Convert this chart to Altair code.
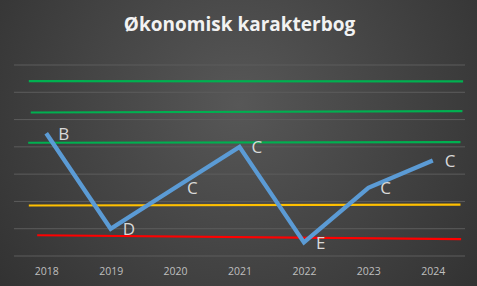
import altair as alt
import pandas as pd

# ---- data ----
years = [2018, 2019, 2020, 2021, 2022, 2023, 2024]
scores = [4.5, 1.0, 2.5, 4.0, 0.5, 2.5, 3.5]
grades = ["B", "D", "C", "C", "E", "C", "C"]

grid_levels = [0, 1, 2, 3, 4, 5, 6, 7]

ref_names = ["g1", "g1", "g2", "g2", "g3", "g3", "y", "y", "r", "r"]
ref_x = [2017.73, 2024.47, 2017.76, 2024.46, 2017.72, 2024.43, 2017.73, 2024.43, 2017.86, 2024.44]
ref_y = [6.41, 6.40, 5.26, 5.31, 4.15, 4.17, 1.85, 1.88, 0.76, 0.62]
ref_colors = {"g1": "#00B050", "g2": "#00B050", "g3": "#00B050", "y": "#FFC000", "r": "#FF0000"}

W, H = 451, 191
PAD = {"left": 14, "top": 65, "right": 12, "bottom": 30}

main = pd.DataFrame({"year": years, "score": scores, "grade": grades})
refs = pd.DataFrame({"name": ref_names, "x": ref_x, "y": ref_y})
grid = pd.DataFrame({"level": grid_levels})

xscale = alt.Scale(domain=[2017.5, 2024.5], nice=False, zero=False)
yscale = alt.Scale(domain=[0, 7], nice=False, zero=False)

bg = alt.Chart(pd.DataFrame({"k": [0]})).mark_rect(
    fill=alt.RadialGradient(
        gradient="radial", x1=0.5, y1=0.42, r1=0.0, x2=0.5, y2=0.42, r2=0.75,
        stops=[alt.GradientStop(offset=0, color="#575757"),
               alt.GradientStop(offset=1, color="#2b2b2b")]),
    clip=False,
).encode(
    x=alt.value(-PAD["left"]), x2=alt.value(W + PAD["right"]),
    y=alt.value(-PAD["top"]), y2=alt.value(H + PAD["bottom"]),
)

gridlines = alt.Chart(grid).mark_rule(color="#5c5c5c", strokeWidth=1).encode(
    y=alt.Y("level:Q", scale=yscale, axis=None),
    x=alt.value(0), x2=alt.value(W),
)

axis_layer = alt.Chart(main).mark_point(opacity=0).encode(
    x=alt.X("year:Q", scale=xscale, title=None,
            axis=alt.Axis(values=years, format="d", grid=False, domain=False, ticks=False,
                          labelColor="#BFBFBF", labelFont="Open Sans", labelFontSize=10.5,
                          labelPadding=10, labelFlush=False, zindex=1)),
    y=alt.Y("score:Q", scale=yscale, axis=None),
)

reflines = alt.Chart(refs).mark_line(strokeWidth=2.2).encode(
    x=alt.X("x:Q", scale=xscale),
    y=alt.Y("y:Q", scale=yscale),
    detail="name:N",
    color=alt.Color("name:N", legend=None,
                    scale=alt.Scale(domain=list(ref_colors.keys()), range=list(ref_colors.values()))),
)

blue = alt.Chart(main).mark_line(color="#5B9BD5", strokeWidth=4.3, strokeJoin="miter").encode(
    x=alt.X("year:Q", scale=xscale),
    y=alt.Y("score:Q", scale=yscale),
)

labels = alt.Chart(main).mark_text(
    align="left", baseline="middle", dx=12, dy=1.5,
    font="Open Sans", fontSize=17, color="#D9D9D9",
).encode(
    x=alt.X("year:Q", scale=xscale),
    y=alt.Y("score:Q", scale=yscale),
    text="grade:N",
)

chart = alt.layer(bg, gridlines, axis_layer, reflines, blue, labels).properties(
    width=W, height=H,
    padding=PAD,
    autosize=alt.AutoSizeParams(type="none"),
    title=alt.TitleParams("Økonomisk karakterbog", font="Open Sans", fontSize=19,
                          fontWeight="bold", color="#F2F2F2", anchor="middle",
                          frame="group", offset=32, dy=PAD["top"] + 2, zindex=1),
).configure(background="#2e2e2e").configure_view(stroke=None)

chart.save("out.html", embed_options={"renderer": "svg", "actions": False})
